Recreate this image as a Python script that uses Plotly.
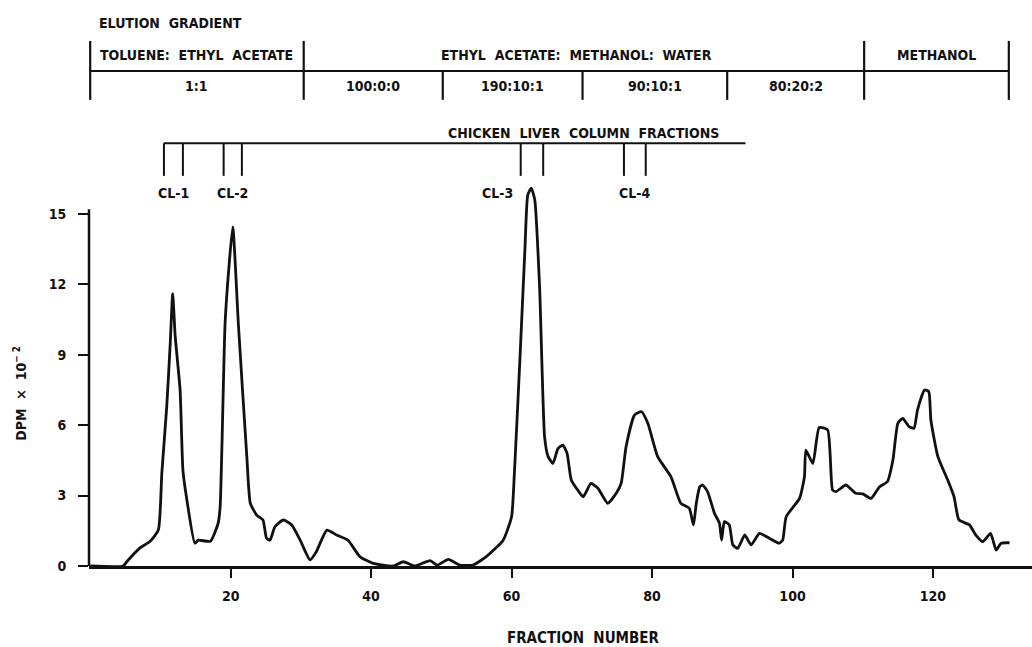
import plotly.graph_objects as go

# ---- data ----
fraction = [0.0, 4.7, 5.2, 7.1, 8.5, 9.7, 10.2, 10.9, 11.4, 11.75, 12.1, 12.8, 13.2, 13.7, 14.9, 15.4,
            17.1, 18.2, 18.5, 19.2, 19.8, 20.3, 21.1, 22.3, 22.8, 23.7, 24.6, 25.1, 25.6, 26.3, 27.5,
            28.7, 29.9, 31.3, 32.2, 33.7, 35.1, 36.7, 38.4, 40.3, 43.1, 44.6, 46.2, 48.4, 49.4, 51.0,
            52.6, 54.5, 56.4, 58.8, 60.0, 60.4, 61.2, 61.9, 62.3, 62.8, 63.3, 64.0, 64.7, 65.2, 65.9,
            66.6, 67.3, 67.9, 68.5, 69.4, 70.2, 71.3, 72.3, 73.7, 74.9, 75.6, 76.3, 77.5, 78.5, 79.4,
            80.8, 82.7, 84.1, 85.3, 85.9, 86.3, 86.8, 87.2, 87.9, 88.9, 89.6, 89.9, 90.3, 91.0, 91.5,
            92.2, 93.2, 94.1, 95.3, 96.7, 98.1, 98.6, 99.1, 101.0, 101.7, 101.9, 102.9, 103.8, 105.0,
            105.7, 106.2, 107.6, 109.0, 110.0, 111.2, 112.4, 113.5, 114.3, 115.0, 115.7, 116.6, 117.3,
            117.8, 118.8, 119.4, 119.7, 120.7, 122.1, 123.0, 123.7, 125.2, 126.1, 127.1, 128.2, 129.0,
            129.7, 130.9]
dpm = [0.0, 0.0, 0.18, 0.77, 1.04, 1.53, 3.96, 6.8, 9.5, 11.6, 9.8, 7.5, 4.1, 2.95, 0.97, 1.1,
       1.05, 1.8, 2.5, 10.3, 12.9, 14.45, 10.3, 4.66, 2.67, 2.17, 1.96, 1.19, 1.1, 1.67, 1.96,
       1.75, 1.1, 0.26, 0.61, 1.53, 1.32, 1.1, 0.4, 0.11, 0.0, 0.18, 0.0, 0.23, 0.04, 0.28,
       0.04, 0.04, 0.4, 1.1, 2.1, 3.96, 8.9, 13.5, 15.8, 16.1, 15.6, 11.8, 5.5, 4.66, 4.37,
       5.0, 5.15, 4.8, 3.66, 3.24, 2.95, 3.52, 3.31, 2.67, 3.1, 3.52, 5.08, 6.43, 6.57, 6.08,
       4.66, 3.8, 2.67, 2.46, 1.75, 2.67, 3.38, 3.45, 3.17, 2.24, 1.82, 1.1, 1.89, 1.75, 0.9,
       0.75, 1.32, 0.9, 1.39, 1.18, 0.97, 1.1, 2.1, 2.88, 3.8, 4.94, 4.37, 5.9, 5.8,
       3.24, 3.17, 3.45, 3.1, 3.07, 2.88, 3.38, 3.59, 4.52, 6.08, 6.29, 5.94, 5.87,
       6.65, 7.5, 7.43, 6.22, 4.66, 3.66, 2.95, 1.96, 1.75, 1.32, 1.04, 1.39, 0.68,
       0.97, 0.99]

x_ticks = [20, 40, 60, 80, 100, 120]
y_ticks = [0, 3, 6, 9, 12, 15]

# elution gradient table
gradient_bounds = [0.0, 30.4, 50.2, 70.1, 90.7, 110.2, 130.8]
gradient_full = [True, True, False, False, False, True, True]
solvent_systems = ["TOLUENE:  ETHYL  ACETATE", "ETHYL  ACETATE:  METHANOL:  WATER", "METHANOL"]
solvent_spans = [(0, 1), (1, 5), (5, 6)]
ratios = ["1:1", "100:0:0", "190:10:1", "90:10:1", "80:20:2", ""]

# chicken liver column fractions
cl_names = ["CL-1", "CL-2", "CL-3", "CL-4"]
cl_starts = [10.5, 19.0, 61.3, 76.0]
cl_ends = [13.2, 21.6, 64.5, 79.1]
cl_bar_end = 93.3

FONT = "DejaVu Sans Condensed, Liberation Sans Narrow, DejaVu Sans, sans-serif"
BLACK = "#111111"
NB = "\u00a0"

def sp(s):
    return s.replace(" ", NB)

# vertical layout levels (y data units, above the plotted curve)
Y_TOP = 23.9
Y_TITLE = 23.14
Y_BAR_TOP, Y_MID, Y_BAR_BOT = 22.37, 21.09, 19.86
Y_ROW1, Y_ROW2 = 21.78, 20.47
Y_CL_LINE, Y_CL_TICK, Y_CL_TEXT, Y_CL_TITLE = 18.01, 16.62, 15.9, 18.45

fig = go.Figure()
fig.add_trace(go.Scatter(
    x=fraction, y=dpm, mode="lines",
    line=dict(color=BLACK, width=2.8, shape="spline", smoothing=0.5),
    cliponaxis=False, hoverinfo="skip", showlegend=False,
))

shapes = []
# y axis line (only up to 15)
shapes.append(dict(type="line", xref="paper", yref="y", x0=0, x1=0, y0=0, y1=15.2,
                   line=dict(color=BLACK, width=2.5)))
# gradient table
for b, full in zip(gradient_bounds, gradient_full):
    shapes.append(dict(type="line", xref="x", yref="y", x0=b, x1=b,
                       y0=Y_BAR_BOT, y1=Y_BAR_TOP if full else Y_MID,
                       line=dict(color=BLACK, width=2.2)))
shapes.append(dict(type="line", xref="x", yref="y", x0=gradient_bounds[0], x1=gradient_bounds[-1],
                   y0=Y_MID, y1=Y_MID, line=dict(color=BLACK, width=2)))
# CL bar
shapes.append(dict(type="line", xref="x", yref="y", x0=cl_starts[0], x1=cl_bar_end,
                   y0=Y_CL_LINE, y1=Y_CL_LINE, line=dict(color=BLACK, width=2)))
for s, e in zip(cl_starts, cl_ends):
    for v in (s, e):
        shapes.append(dict(type="line", xref="x", yref="y", x0=v, x1=v,
                           y0=Y_CL_TICK, y1=Y_CL_LINE, line=dict(color=BLACK, width=2)))

annotations = []
def txt(x, y, text, size=14, xanchor="center", xref="x", yref="y"):
    annotations.append(dict(x=x, y=y, xref=xref, yref=yref, text=sp(text), showarrow=False,
                            xanchor=xanchor, yanchor="middle",
                            font=dict(family=FONT, size=size, color=BLACK, weight="bold")))

txt(0.97, Y_TITLE, "ELUTION  GRADIENT", xanchor="left")
for name, (i0, i1) in zip(solvent_systems, solvent_spans):
    cx = (gradient_bounds[i0] + gradient_bounds[i1]) / 2
    if name.startswith("ETHYL"):
        cx -= 1.0
    txt(cx, Y_ROW1, name)
for i, r in enumerate(ratios):
    if r:
        txt((gradient_bounds[i] + gradient_bounds[i + 1]) / 2, Y_ROW2, r)

txt(70.3, Y_CL_TITLE, "CHICKEN  LIVER  COLUMN  FRACTIONS")
for name, s, e in zip(cl_names, cl_starts, cl_ends):
    if name == "CL-3":
        txt(s - 0.8, Y_CL_TEXT, name, xanchor="right")
    else:
        txt((s + e) / 2, Y_CL_TEXT, name)

# axis titles as annotations (paper y so they are not hidden outside the axis range)
txt(70.3, -0.128, "FRACTION  NUMBER", size=15, yref="paper")
annotations.append(dict(x=-0.073, y=7.35, xref="paper", yref="y",
                        text=sp("DPM  ×  10") + "<sup>" + sp("− 2") + "</sup>",
                        textangle=-90, showarrow=False, xanchor="center", yanchor="middle",
                        font=dict(family=FONT, size=14, color=BLACK, weight="bold")))

fig.update_layout(
    width=1032, height=647,
    margin=dict(l=89, r=0, t=5, b=81, autoexpand=False),
    paper_bgcolor="white", plot_bgcolor="white",
    shapes=shapes, annotations=annotations,
    font=dict(family=FONT, color=BLACK, size=13),
    xaxis=dict(range=[-0.17, 134.1], tickvals=x_ticks, ticks="outside", ticklen=9,
               tickwidth=2, tickcolor=BLACK, showline=True, linecolor=BLACK, linewidth=2.5,
               showgrid=False, zeroline=False, ticklabelstandoff=6, automargin=False,
               tickfont=dict(family=FONT, size=14, color=BLACK, weight="bold")),
    yaxis=dict(range=[0, Y_TOP], tickvals=y_ticks, ticks="outside", ticklen=10,
               tickwidth=2, tickcolor=BLACK, showline=False, showgrid=False, zeroline=False,
               ticklabelstandoff=9, automargin=False,
               tickfont=dict(family=FONT, size=14, color=BLACK, weight="bold")),
)

fig.write_html(
    "out.html",
    config={"displayModeBar": False},
    post_script="document.body.style.margin='0';document.body.style.overflow='hidden';",
)
